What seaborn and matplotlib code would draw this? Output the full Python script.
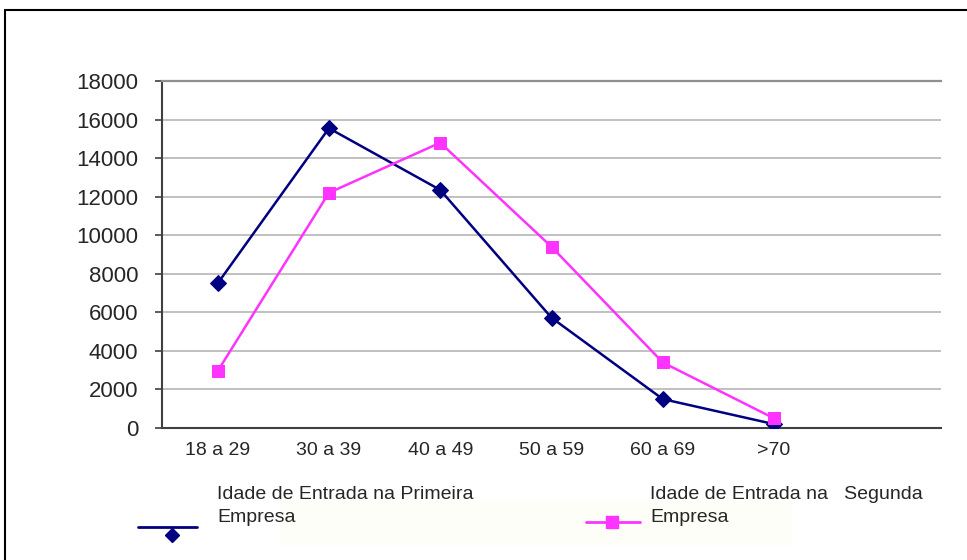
import numpy as np
import pandas as pd
import matplotlib
matplotlib.use('Agg')
import matplotlib.pyplot as plt
import seaborn as sns
from matplotlib.lines import Line2D
from matplotlib.patches import Rectangle

# dados
faixas = ['18 a 29', '30 a 39', '40 a 49', '50 a 59', '60 a 69', '>70']
primeira = [7500, 15550, 12350, 5720, 1500, 200]
segunda = [2950, 12200, 14800, 9400, 3400, 500]
rotulo_primeira = 'Idade de Entrada na Primeira\nEmpresa'
rotulo_segunda = 'Idade de Entrada na   Segunda\nEmpresa'
y_ticks = list(range(0, 18001, 2000))

df = pd.DataFrame({'faixa': faixas, 'primeira': primeira, 'segunda': segunda})

sns.set_style('white')
plt.rcParams['font.family'] = ['Liberation Sans', 'DejaVu Sans']

W, H = 967, 560
fig = plt.figure(figsize=(W / 100, H / 100), dpi=100)
ax = fig.add_axes([162 / W, 1 - 428 / H, (941 - 162) / W, (428 - 81) / H])

azul = '#000080'
rosa = '#FF33FF'
sns.lineplot(data=df, x='faixa', y='primeira', color=azul, marker='D', markersize=8,
             markeredgecolor=azul, linewidth=1.8, sort=False, ax=ax, zorder=3)
sns.lineplot(data=df, x='faixa', y='segunda', color=rosa, marker='s', markersize=8,
             markeredgecolor=rosa, linewidth=1.8, sort=False, ax=ax, zorder=3)

ax.set_xlim(-0.5, 6.5)
ax.set_ylim(0, 18000)
ax.set_yticks(y_ticks)
ax.set_yticklabels([str(v) for v in y_ticks], fontsize=16)
ax.set_xticks(range(len(faixas)))
ax.set_xticklabels(faixas, fontsize=14)
ax.set_xticks(np.arange(-0.5, 7, 1), minor=True)
ax.tick_params(axis='x', which='major', length=0, pad=10)
ax.tick_params(axis='x', which='minor', direction='inout', length=12, width=1.2, color='#404040')
ax.tick_params(axis='y', which='major', direction='out', length=5, width=1.2, color='#404040', pad=12, left=True)
ax.set_xlabel('')
ax.set_ylabel('')

ax.yaxis.grid(True, color='#c0c0c0', linewidth=1.4)
ax.set_axisbelow(True)
for s in ['left', 'bottom']:
    ax.spines[s].set_color('#404040')
    ax.spines[s].set_linewidth(1.5)
ax.spines['right'].set_visible(False)
ax.spines['top'].set_color('#909090')
ax.spines['top'].set_linewidth(1.6)

# moldura externa
fig.add_artist(Line2D([5 / W, 5 / W], [0, 1 - 10 / H], transform=fig.transFigure, color='black', lw=1.5))
fig.add_artist(Line2D([5 / W, 1], [1 - 10 / H, 1 - 10 / H], transform=fig.transFigure, color='black', lw=1.5))

# legenda
fig.add_artist(Rectangle((280 / W, 1 - 545 / H), (792 - 280) / W, 45 / H, transform=fig.transFigure,
                         facecolor='#fefef8', edgecolor='none', zorder=0))
fig.add_artist(Line2D([138 / W, 197 / W], [1 - 527 / H] * 2, transform=fig.transFigure, color=azul, lw=2))
fig.add_artist(Line2D([172 / W], [1 - 535 / H], transform=fig.transFigure, color=azul, marker='D',
                      markersize=7, lw=0))
fig.text(217 / W, 1 - 506 / H, rotulo_primeira, fontsize=14, va='center', ha='left', linespacing=1.45)
fig.add_artist(Line2D([586 / W, 640 / W], [1 - 522 / H] * 2, transform=fig.transFigure, color=rosa, lw=2))
fig.add_artist(Line2D([612 / W], [1 - 522 / H], transform=fig.transFigure, color=rosa, marker='s',
                      markersize=8, lw=0))
fig.text(650 / W, 1 - 506 / H, rotulo_segunda, fontsize=14, va='center', ha='left', linespacing=1.45)

plt.savefig('out.png', dpi=100)
plt.close()
